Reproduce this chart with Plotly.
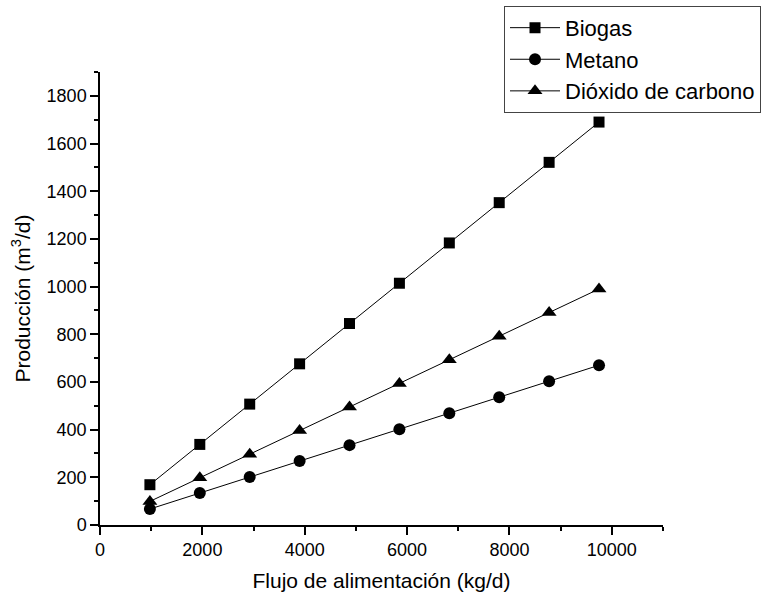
import plotly.graph_objects as go

flujo = [975, 1950, 2925, 3900, 4875, 5850, 6825, 7800, 8775, 9750]
biogas = [169, 338, 507, 676, 845, 1014, 1183, 1352, 1521, 1690]
metano = [67, 134, 201, 268, 335, 402, 469, 536, 603, 670]
co2 = [99, 198, 297, 396, 495, 594, 693, 792, 891, 990]

series = [
    ("Biogas", biogas, "square", 11),
    ("Metano", metano, "circle", 12),
    ("Dióxido de carbono", co2, "triangle-up", 13),
]

FONT = "Liberation Sans, Arial, sans-serif"

fig = go.Figure()
for name, vals, sym, sz in series:
    fig.add_trace(go.Scatter(
        x=flujo, y=vals, name=name, mode="lines+markers",
        line=dict(color="black", width=1),
        marker=dict(symbol=sym, size=sz, color="black"),
    ))

axis_common = dict(
    showline=True, linecolor="black", linewidth=1.5,
    ticks="outside", ticklen=8, tickwidth=1.5, tickcolor="black",
    showgrid=False, zeroline=False, mirror=False,
    tickfont=dict(family=FONT, size=18, color="black"),
)

fig.update_layout(
    width=771, height=598,
    margin=dict(l=100, r=108, t=72, b=73, autoexpand=False),
    plot_bgcolor="white", paper_bgcolor="white",
    font=dict(family=FONT, color="black"),
    xaxis=dict(
        range=[0, 11000], dtick=2000, tick0=0, tickformat="d",
        minor=dict(dtick=1000, ticks="outside", ticklen=4, tickwidth=1.5, tickcolor="black"),
        title=dict(text="Flujo de alimentación (kg/d)", font=dict(family=FONT, size=21), standoff=14),
        **axis_common,
    ),
    yaxis=dict(
        range=[0, 1900], dtick=200, tick0=0, tickformat="d",
        minor=dict(dtick=100, ticks="outside", ticklen=4, tickwidth=1.5, tickcolor="black"),
        title=dict(text="Producción (m<sup>3</sup>/d)", font=dict(family=FONT, size=21), standoff=10),
        **axis_common,
    ),
    legend=dict(
        x=0.7176, y=1.146, xanchor="left", yanchor="top",
        bordercolor="#444", borderwidth=1, bgcolor="white",
        font=dict(family=FONT, size=22, color="black"),
        tracegroupgap=0, itemwidth=50,
    ),
    showlegend=True,
)

fig.write_html("out.html")
